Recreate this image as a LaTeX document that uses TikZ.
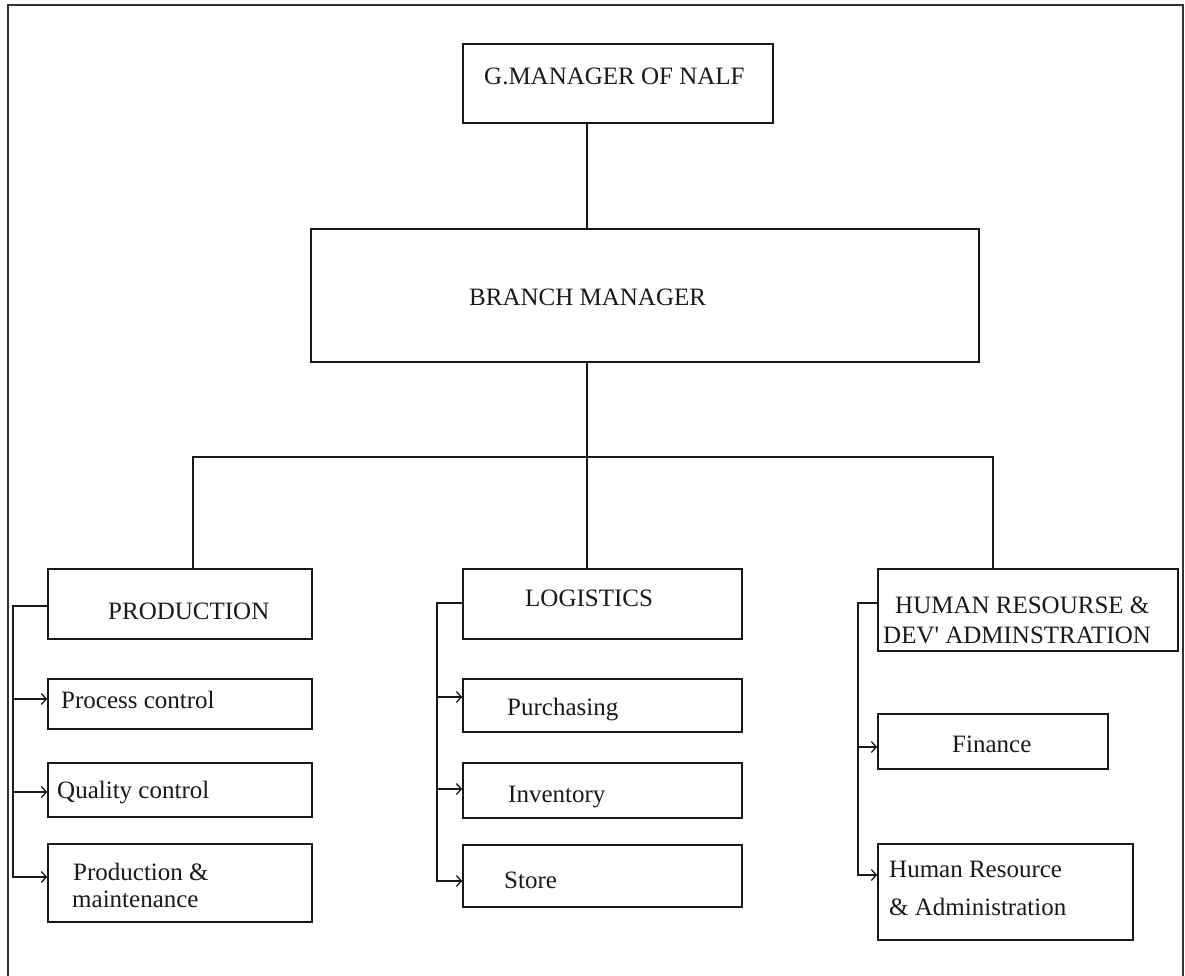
\documentclass[tikz,border=0pt]{standalone}
\usepackage{fontspec}
\setmainfont{Liberation Serif}
\usetikzlibrary{calc,arrows.meta}
\tikzset{
  box/.style={draw=black!90, line width=1.6pt, rectangle, inner sep=0pt},
  lbl/.style={anchor=base west, inner sep=0pt, font=\fontsize{25}{30}\selectfont, text=black!90},
  conn/.style={draw=black!90, line width=1.6pt},
  arr/.style={conn, -{Straight Barb[length=5pt,width=11pt,line width=1.3pt]}},
  frame/.style={draw=black!80, line width=2pt}
}
\begin{document}
\begin{tikzpicture}[x=1pt,y=-1pt]
\useasboundingbox (0,0) rectangle (1185,976);
\fill[white] (0,0) rectangle (1185,976);
% outer frame (open at the bottom)
\draw[frame] (8,990) -- (8,5) -- (1183,5) -- (1183,990);

% boxes
\node[box, minimum width=310pt, minimum height=79pt] (gm) at (618,83.5) {};
\node[box, minimum width=668pt, minimum height=133pt] (branch) at (645,295.5) {};
\node[box, minimum width=264pt, minimum height=70pt] (prod) at (180,604) {};
\node[box, minimum width=264pt, minimum height=50pt] (pc) at (180,704) {};
\node[box, minimum width=264pt, minimum height=54pt] (qc) at (180,790) {};
\node[box, minimum width=264pt, minimum height=78pt] (pm) at (180,883) {};
\node[box, minimum width=279pt, minimum height=70pt] (log) at (602.5,604) {};
\node[box, minimum width=279pt, minimum height=53pt] (pu) at (602.5,705.5) {};
\node[box, minimum width=279pt, minimum height=55pt] (inv) at (602.5,790.5) {};
\node[box, minimum width=279pt, minimum height=62pt] (st) at (602.5,876) {};
\node[box, minimum width=300pt, minimum height=82pt] (hr) at (1028,610) {};
\node[box, minimum width=230pt, minimum height=55pt] (fin) at (993,741.5) {};
\node[box, minimum width=255pt, minimum height=96pt] (hra) at (1005.5,892) {};

% texts
\node[lbl] (tgm) at (484,85) {G.MANAGER OF NALF};
\node[lbl] (tbranch) at (469,305) {BRANCH MANAGER};
\node[lbl] (tprod) at (108,619) {PRODUCTION};
\node[lbl] (tpc) at (61,708) {Process control};
\node[lbl] (tqc) at (57,798) {Quality control};
\node[lbl] (tpm1) at (73,880) {Production \&};
\node[lbl] (tpm2) at (72,907) {maintenance};
\node[lbl] (tlog) at (525,606) {LOGISTICS};
\node[lbl] (tpu) at (507,715) {Purchasing};
\node[lbl] (tinv) at (508,802) {Inventory};
\node[lbl] (tst) at (504,888) {Store};
\node[lbl] (thr1) at (895,613) {HUMAN RESOURSE \&};
\node[lbl] (thr2) at (883,643) {DEV\textquotesingle{} ADMINSTRATION};
\node[lbl] (tfin) at (952,752) {Finance};
\node[lbl] (thra1) at (889,877) {Human Resource};
\node[lbl] (thra2) at (889,915) {\& Administration};

% tree connectors
\coordinate (trunk) at (587,457);
\coordinate (busL) at (193,457);
\coordinate (busR) at (993,457);
\draw[conn] (trunk |- gm.south) -- (trunk |- branch.north);
\draw[conn] (trunk |- branch.south) -- (trunk);
\draw[conn] (busL |- prod.north) -- (busL) -- (busR) -- (busR |- hr.north);
\draw[conn] (trunk) -- (trunk |- log.north);

% production side connectors
\coordinate (pl) at (13,0);
\draw[arr] ($(prod.west)+(0,2)$) -- (pl |- {$(prod.west)+(0,2)$}) -- (pl |- {$(pm.west)+(0,-6)$}) -- ($(pm.west)+(0,-6)$);
\draw[arr] (pl |- {$(pc.west)+(0,-5)$}) -- ($(pc.west)+(0,-5)$);
\draw[arr] (pl |- {$(qc.west)+(0,2)$}) -- ($(qc.west)+(0,2)$);

% logistics side connectors
\coordinate (ll) at (437,0);
\draw[arr] ($(log.west)+(0,-1)$) -- (ll |- {$(log.west)+(0,-1)$}) -- (ll |- {$(st.west)+(0,5)$}) -- ($(st.west)+(0,5)$);
\draw[arr] (ll |- {$(pu.west)+(0,-8.5)$}) -- ($(pu.west)+(0,-8.5)$);
\draw[arr] (ll |- {$(inv.west)+(0,-1.5)$}) -- ($(inv.west)+(0,-1.5)$);

% HR side connectors
\coordinate (hl) at (858,0);
\draw[arr] ($(hr.west)+(0,-7)$) -- (hl |- {$(hr.west)+(0,-7)$}) -- (hl |- {$(hra.west)+(0,-17)$}) -- ($(hra.west)+(0,-17)$);
\draw[arr] (hl |- {$(fin.west)+(0,5.5)$}) -- ($(fin.west)+(0,5.5)$);
\end{tikzpicture}
\end{document}
